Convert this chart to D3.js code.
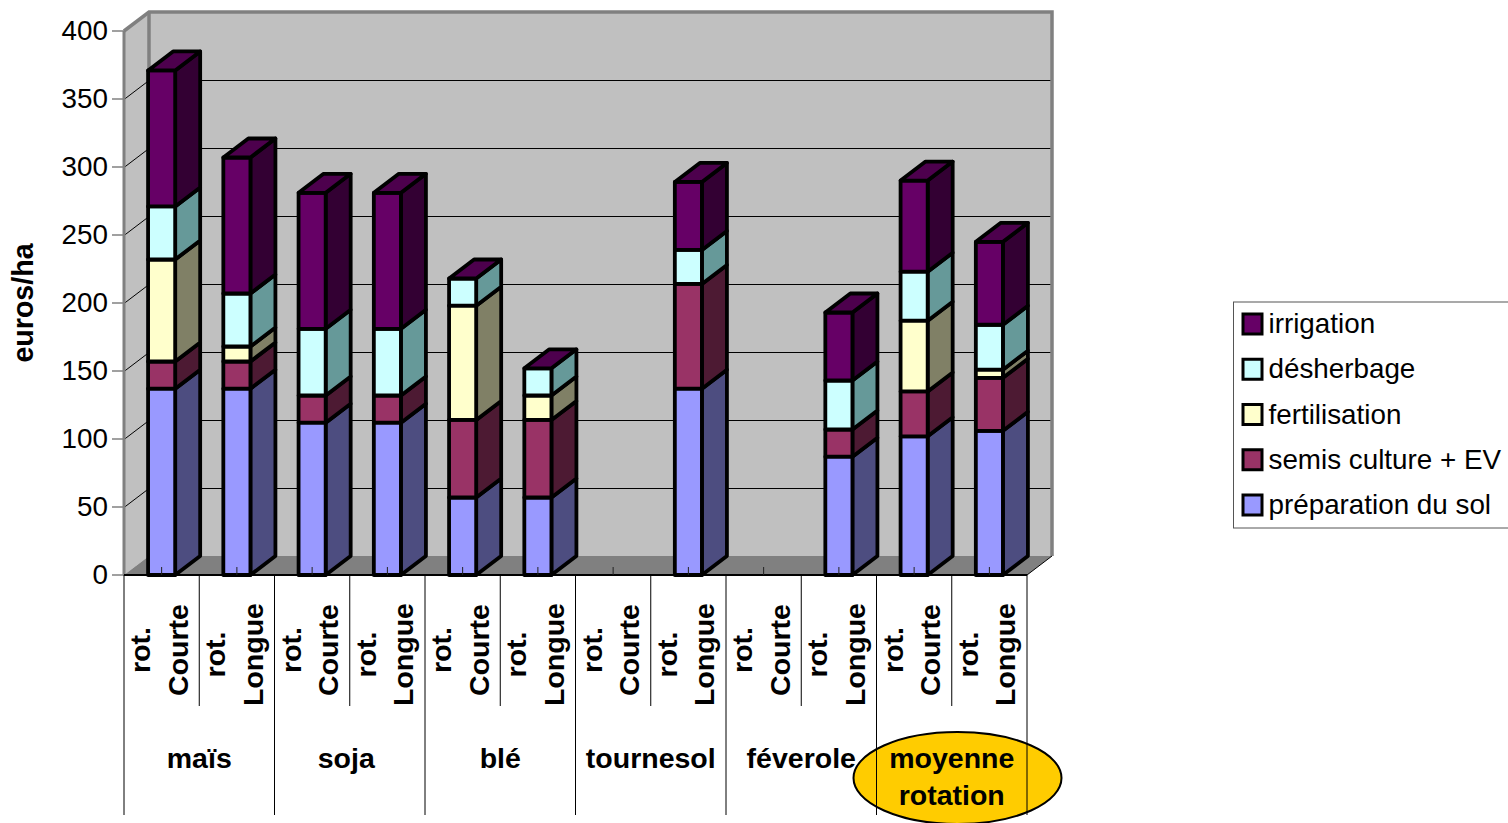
<!DOCTYPE html>
<html lang="fr">
<head>
<meta charset="utf-8">
<title>Charges de culture par rotation</title>
<script src="https://cdn.jsdelivr.net/npm/d3@7"></script>
<style>
html,body{margin:0;padding:0;background:#fff;overflow:hidden}
svg{display:block}
text{font-family:"Liberation Sans",Arial,sans-serif;fill:#000}
</style>
</head>
<body>
<svg id="chart" width="1508" height="823"></svg>
<script>
// Categories (two levels) and stacked series, in euros/ha
const rotations = ["rot. Courte","rot. Longue"];
const crops = ["maïs","soja","blé","tournesol","féverole","moyenne rotation"];
const seriesNames = ["préparation du sol","semis culture + EV","fertilisation","désherbage","irrigation"];
const preparation = [137,137,112,112,57,57,0,137,0,87,102,106];
const semis       = [20,20,20,20,57,57,0,77,0,20,33,39];
const fertilisation=[75,11,0,0,84,18,0,0,0,0,52,6];
const desherbage  = [39,39,49,49,20,20,0,25,0,36,36,33];
const irrigation  = [100,100,100,100,0,0,0,50,0,50,67,61];
const yTicks = [0,50,100,150,200,250,300,350,400];

const seriesValues = [preparation,semis,fertilisation,desherbage,irrigation];
const faceColors = ["#9999ff","#993366","#ffffcc","#ccffff","#660066"];
const sideColors = ["#4d4d80","#4d1a33","#808066","#669999","#330033"];
const topColor = "#4d004d";

const svg = d3.select("#chart");
const depthX = 25, depthY = -19;

const barKeys = d3.range(crops.length*rotations.length);
const x = d3.scaleBand().domain(barKeys).range([124,1027]).paddingInner(0.64).paddingOuter(0.32);
const xStep = d3.scaleBand().domain(barKeys).range([124,1027]);
const y = d3.scaleLinear().domain([0,400]).range([575,31]);
const poly = pts => pts.map(p=>p.join(",")).join(" ");

const left = x.range()[0], right = x.range()[1], y0 = y(0), yTop = y(400);
const gray = "#808080";

// Walls and floor of the 3D box
svg.append("polygon").attr("points",poly([[left,yTop],[left+depthX,yTop+depthY],[left+depthX,y0+depthY],[left,y0]])).attr("fill","#c0c0c0");
svg.append("polygon").attr("points",poly([[left+depthX,yTop+depthY],[right+depthX,yTop+depthY],[right+depthX,y0+depthY],[left+depthX,y0+depthY]])).attr("fill","#c0c0c0");
svg.append("polygon").attr("points",poly([[left,y0],[left+depthX,y0+depthY],[right+depthX,y0+depthY],[right,y0]])).attr("fill",gray);

// Gridlines running along the side and back walls
yTicks.slice(1,-1).forEach(t=>{
  svg.append("polyline").attr("points",poly([[left,y(t)+0.5],[left+depthX,y(t)+depthY+0.5],[right+depthX,y(t)+depthY+0.5]]))
    .attr("fill","none").attr("stroke","#000").attr("stroke-width",1);
});

// Wall outline
svg.append("polyline").attr("points",poly([[left,yTop],[left+depthX,yTop+depthY],[right+depthX,yTop+depthY],[right+depthX,y0+depthY]]))
  .attr("fill","none").attr("stroke",gray).attr("stroke-width",3.5);
svg.append("line").attr("x1",left+depthX).attr("x2",left+depthX).attr("y1",yTop+depthY).attr("y2",y0+depthY)
  .attr("stroke",gray).attr("stroke-width",3.5);
svg.append("line").attr("x1",right).attr("x2",right+depthX).attr("y1",y0).attr("y2",y0+depthY)
  .attr("stroke","#000").attr("stroke-width",1);

// Value axis
svg.append("line").attr("x1",left).attr("x2",left).attr("y1",yTop).attr("y2",y0).attr("stroke",gray).attr("stroke-width",3);
const yAxis = svg.append("g").selectAll("g").data(yTicks).join("g");
yAxis.append("line").attr("x1",left-12).attr("x2",left).attr("y1",d=>y(d)).attr("y2",d=>y(d)).attr("stroke",gray).attr("stroke-width",1.5);
yAxis.append("text").text(d=>d).attr("x",left-16).attr("y",d=>y(d)+8.5).attr("text-anchor","end").attr("font-size",27.8);

svg.append("text").text("euros/ha").attr("transform","translate(33,303) rotate(-90)")
  .attr("text-anchor","middle").attr("font-size",28.6).attr("font-weight","bold");

// Stacked 3D bars, drawn left to right and bottom to top
const stack = barKeys.map(i=>{
  let acc = 0;
  return seriesValues.map((s,k)=>{ const seg = {k,y0:acc,y1:acc+s[i]}; acc += s[i]; return seg; });
});
const bars = svg.append("g").attr("stroke","#000").attr("stroke-width",3.8).attr("stroke-linejoin","round");
barKeys.forEach(i=>{
  const total = d3.sum(seriesValues,s=>s[i]);
  if(!total) return;
  const xl = x(i), xr = xl+x.bandwidth();
  const g = bars.append("g");
  stack[i].filter(s=>s.y1>s.y0).forEach(s=>{
    g.append("polygon").attr("fill",sideColors[s.k])
      .attr("points",poly([[xr,y(s.y0)],[xr+depthX,y(s.y0)+depthY],[xr+depthX,y(s.y1)+depthY],[xr,y(s.y1)]]));
    g.append("rect").attr("fill",faceColors[s.k]).attr("x",xl).attr("width",x.bandwidth())
      .attr("y",y(s.y1)).attr("height",y(s.y0)-y(s.y1));
  });
  g.append("polygon").attr("fill",topColor)
    .attr("points",poly([[xl,y(total)],[xl+depthX,y(total)+depthY],[xr+depthX,y(total)+depthY],[xr,y(total)]]));
});

// Category axis: baseline, inner tick marks and the two-level separators
svg.append("line").attr("x1",left).attr("x2",right).attr("y1",y0).attr("y2",y0).attr("stroke","#000").attr("stroke-width",2);
barKeys.forEach(i=>{
  const cx = xStep(i)+xStep.bandwidth()/2;
  svg.append("line").attr("x1",cx).attr("x2",cx).attr("y1",y0-8).attr("y2",y0).attr("stroke","#222").attr("stroke-width",1);
});

// Highlight behind the last group label
svg.append("ellipse").attr("cx",957.5).attr("cy",778).attr("rx",104).attr("ry",46)
  .attr("fill","#ffcc00").attr("stroke","#000").attr("stroke-width",2);

d3.range(barKeys.length+1).forEach(i=>{
  const px = left + i*xStep.bandwidth();
  svg.append("line").attr("x1",px).attr("x2",px).attr("y1",y0).attr("y2",i%2===0?815:706)
    .attr("stroke","#000").attr("stroke-width",1);
});

// Rotated two-line rotation labels
barKeys.forEach(i=>{
  const [a,b] = rotations[i%2].split(" ");
  const cx = xStep(i)+xStep.bandwidth()/2;
  const cy = b==="Courte"?650:654.5;
  svg.append("text").text(a).attr("transform",`translate(${cx-11.5},${cy}) rotate(-90)`)
    .attr("text-anchor","middle").attr("font-size",28.5).attr("font-weight","bold");
  svg.append("text").text(b).attr("transform",`translate(${cx+26},${cy}) rotate(-90)`)
    .attr("text-anchor","middle").attr("font-size",28.5).attr("font-weight","bold");
});

// Crop group labels; "soja" sits slightly left of its group centre
crops.forEach((c,i)=>{
  const cx = left + (i*2+1)*xStep.bandwidth() + (c==="soja"?-3.5:0);
  const words = c==="moyenne rotation" ? c.split(" ") : [c];
  words.forEach((w,j)=>{
    svg.append("text").text(w).attr("x",cx).attr("y",768+j*37)
      .attr("text-anchor","middle").attr("font-size",28.5).attr("font-weight","bold");
  });
});

// Legend, last series first
const legend = svg.append("g");
legend.append("rect").attr("x",1233.5).attr("y",302).attr("width",290).attr("height",226)
  .attr("fill","#fff").attr("stroke","#555").attr("stroke-width",1);
const legendY = d3.scalePoint().domain(d3.range(seriesNames.length).reverse()).range([324,505]);
seriesNames.forEach((n,k)=>{
  legend.append("rect").attr("x",1243).attr("y",legendY(k)-10).attr("width",19).attr("height",20)
    .attr("fill",faceColors[k]).attr("stroke","#000").attr("stroke-width",3);
  legend.append("text").text(n).attr("x",1268.5).attr("y",Math.round(legendY(k)+9)).attr("font-size",27.8);
});
</script>
</body>
</html>
